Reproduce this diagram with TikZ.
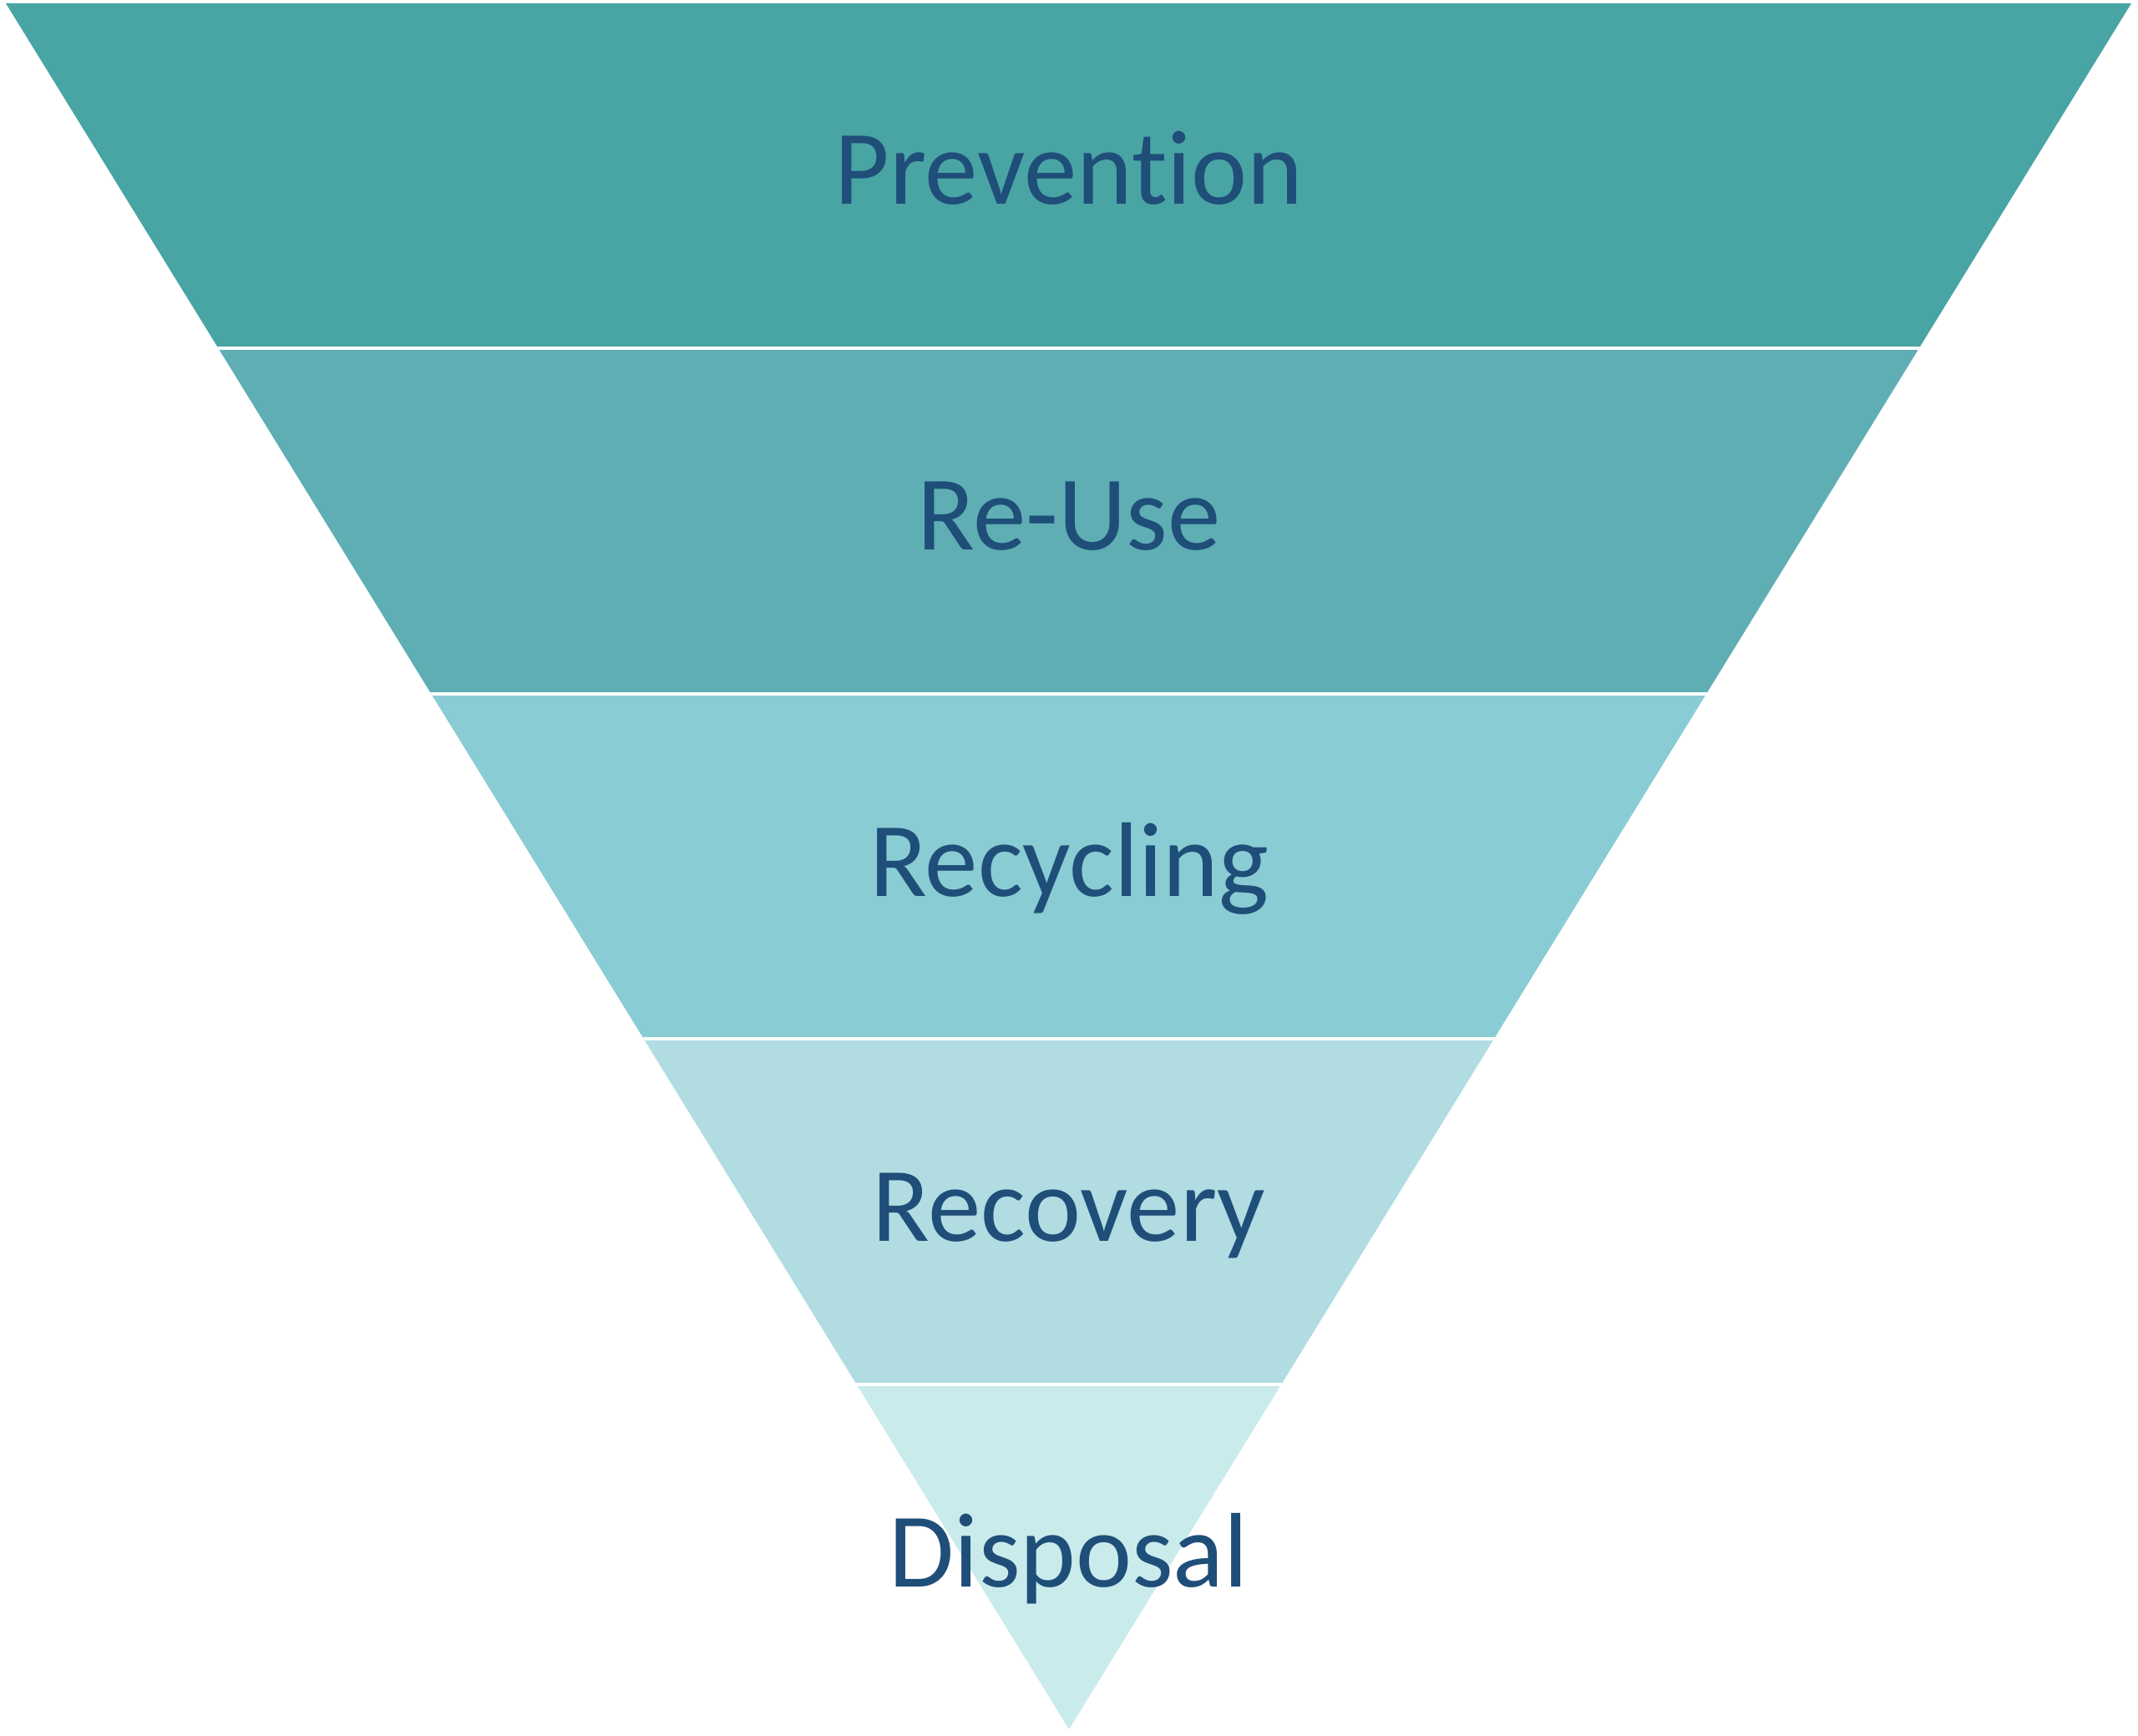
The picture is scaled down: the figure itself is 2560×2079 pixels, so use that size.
\documentclass[tikz,border=0pt]{standalone}
\usepackage{fontspec}
\setmainfont{Carlito}[Ligatures=NoCommon]
\definecolor{cA}{HTML}{49A4A4}
\definecolor{cB}{HTML}{5EAEB4}
\definecolor{cC}{HTML}{89CCD4}
\definecolor{cD}{HTML}{B0DCE2}
\definecolor{cE}{HTML}{C9EBEB}
\definecolor{txt}{HTML}{1F4E79}
\tikzset{label/.style={anchor=base,text=txt,font=\fontsize{127}{150}\selectfont,inner sep=0pt}}
\begin{document}
\begin{tikzpicture}[x=1pt,y=-1pt]
\useasboundingbox (0,0) rectangle (2560,2079);
\coordinate (TL) at (7,4);
\coordinate (TR) at (2552,4);
\coordinate (T) at (1280,2071);
\begin{scope}
\clip (TL)--(TR)--(T)--cycle;
\fill[cA] (0,0) rectangle (2560,417);
\fill[cB] (0,417) rectangle (2560,831);
\fill[cC] (0,831) rectangle (2560,1244);
\fill[cD] (0,1244) rectangle (2560,1658);
\fill[cE] (0,1658) rectangle (2560,2079);
\foreach \y in {417,831,1244,1658} \draw[white,line width=3.5pt] (0,\y)--(2560,\y);
\end{scope}
\node[label] (p) at (1280,245) {Prevention};
\node[label] (r) at (1280,658) {Re-Use};
\node[label] (c) at (1280,1073) {Recycling};
\node[label] (v) at (1280,1486) {Recovery};
\node[label] (d) at (1280,1900) {Disposal};
\end{tikzpicture}
\end{document}
